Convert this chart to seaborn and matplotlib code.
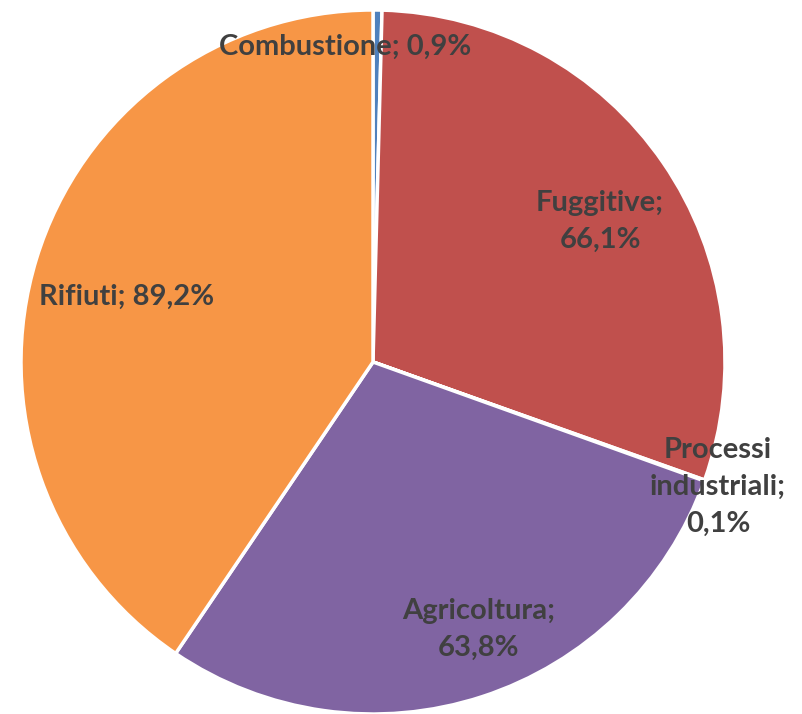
import matplotlib
matplotlib.use("Agg")
import matplotlib.pyplot as plt
import seaborn as sns

sns.set_theme(style="white")
plt.rcParams['font.family'] = ['Lato', 'DejaVu Sans']

# data
categorie = ["Combustione", "Fuggitive", "Processi industriali", "Agricoltura", "Rifiuti"]
valori = [0.9, 66.1, 0.1, 63.8, 89.2]
etichette = ["Combustione; 0,9%", "Fuggitive;\n66,1%", "Processi\nindustriali;\n0,1%",
             "Agricoltura;\n63,8%", "Rifiuti; 89,2%"]
colori = ["#4F81BD", "#C0504D", "#9BBB59", "#8064A2", "#F79646"]

# label positions (data coords, pie radius = 1)
pos_etichette = [(-0.08, 0.895), (0.645, 0.40), (0.98, -0.355), (0.30, -0.76), (-0.70, 0.185)]

fig = plt.figure(figsize=(8.03, 7.14), dpi=100)
ax = fig.add_axes([21 / 803, 0.0, 704 / 803, 704 / 714])
ax.pie(valori, colors=colori, startangle=90, counterclock=False,
       wedgeprops=dict(edgecolor="white", linewidth=2.5))
ax.set_xlim(-1.0, 1.0)
ax.set_ylim(-1.0, 1.0)
ax.set_aspect("equal")
ax.axis("off")

for testo, (x, y) in zip(etichette, pos_etichette):
    ax.text(x, y, testo, ha="center", va="center", fontsize=21, fontweight="bold",
            color="#404040", linespacing=1.5, clip_on=False)

fig.savefig("out.png", dpi=100)
